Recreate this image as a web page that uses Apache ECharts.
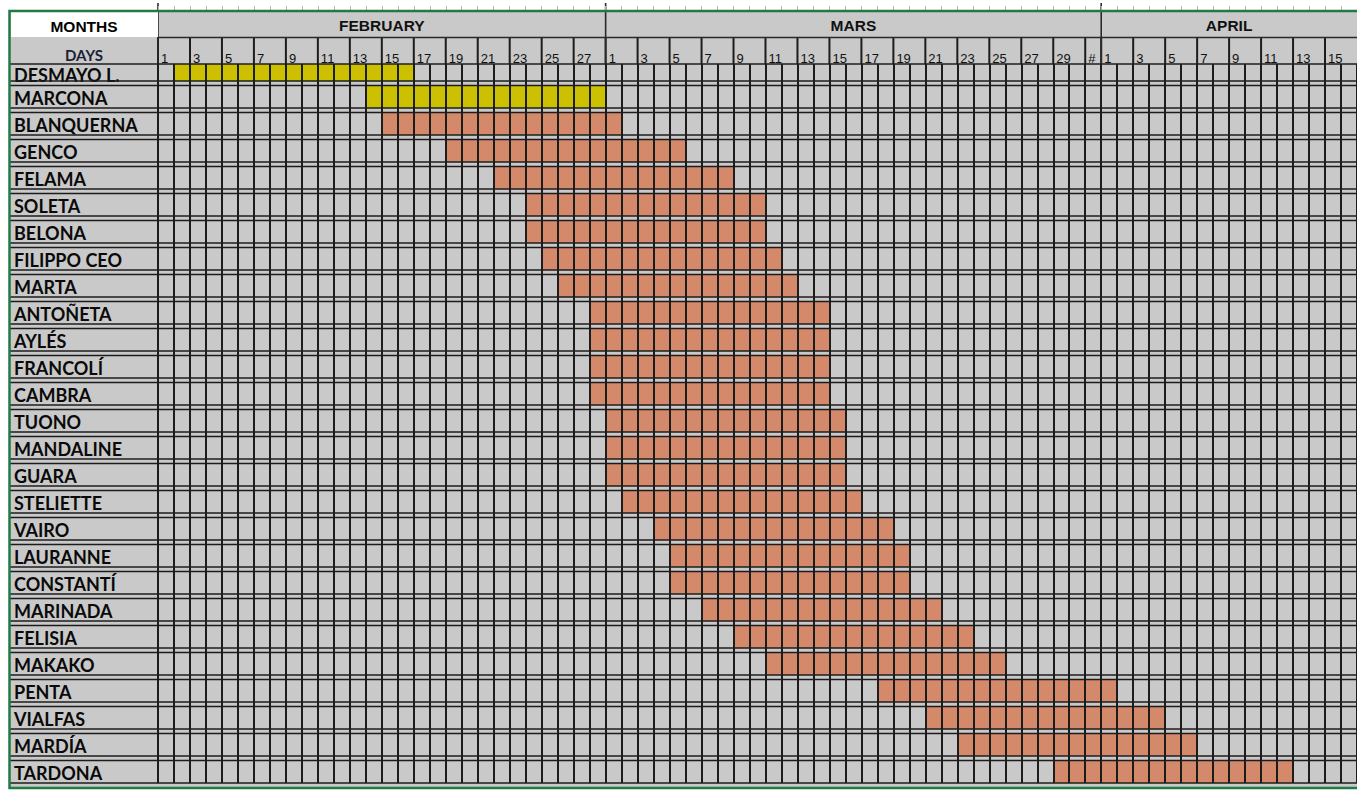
<!DOCTYPE html>
<html><head><meta charset="utf-8">
<script src="https://cdn.jsdelivr.net/npm/echarts@6/dist/echarts.min.js"></script>
<style>html,body{margin:0;padding:0;background:#fff}#c{width:1357px;height:790px}</style>
</head><body><div id="c"></div>
<script>
// ---------- data ----------
const varieties = ['DESMAYO L.','MARCONA','BLANQUERNA','GENCO','FELAMA','SOLETA','BELONA','FILIPPO CEO','MARTA','ANTOÑETA','AYLÉS','FRANCOLÍ','CAMBRA','TUONO','MANDALINE','GUARA','STELIETTE','VAIRO','LAURANNE','CONSTANTÍ','MARINADA','FELISIA','MAKAKO','PENTA','VIALFAS','MARDÍA','TARDONA'];
const bloomStart = ['02-02','02-14','02-15','02-19','02-22','02-24','02-24','02-25','02-26','02-28','02-28','02-28','02-28','03-01','03-01','03-01','03-02','03-04','03-05','03-05','03-07','03-09','03-11','03-18','03-21','03-23','03-29'];
const bloomEnd   = ['02-16','02-28','03-01','03-05','03-08','03-10','03-10','03-11','03-12','03-14','03-14','03-14','03-14','03-15','03-15','03-15','03-16','03-18','03-19','03-19','03-21','03-23','03-25','04-01','04-04','04-06','04-12'];
const bloomGroup = ['early','early','main','main','main','main','main','main','main','main','main','main','main','main','main','main','main','main','main','main','main','main','main','main','main','main','main'];
const monthNames = ['FEBRUARY','MARS','APRIL'];
const monthNumbers = [2, 3, 4];
const monthVisibleDays = [28, 31, 16];
const overflowDayLabel = { 31: '#' };

// ---------- helpers ----------
const monthOffset = {};
let acc = 0;
monthNumbers.forEach((m, i) => { monthOffset[m] = acc; acc += monthVisibleDays[i]; });
const TOTAL = acc;
function dayIndex(s) { const [m, d] = s.split('-').map(Number); return monthOffset[m] + d - 1; }
function dayLabel(v) {
  for (let i = 0; i < monthNumbers.length; i++) {
    const off = monthOffset[monthNumbers[i]];
    if (v >= off && v < off + monthVisibleDays[i]) {
      const day = v - off + 1;
      if (day % 2 === 1) return overflowDayLabel[day] || String(day);
      return '';
    }
  }
  return '';
}
const monthData = monthNumbers.map((m, i) => [monthOffset[m], monthOffset[m] + monthVisibleDays[i], 1]);
const dayCellData = [];
monthNumbers.forEach((m, i) => {
  const off = monthOffset[m], len = monthVisibleDays[i];
  for (let d = 1; d <= len; d += 2) dayCellData.push([off + d - 1, Math.min(off + d + 1, off + len), 1.5]);
});
function barsFor(group) {
  const out = [];
  varieties.forEach((n, i) => { if (bloomGroup[i] === group) out.push([dayIndex(bloomStart[i]), dayIndex(bloomEnd[i]) + 1, i]); });
  return out;
}

// ---------- style ----------
const GRAY = '#c9c9c9';
const LINE = '#1c1c1c';
const LABEL_W = 148;
const ROW_GAP = 4.5;
const nameFont = { fontFamily: 'Lato', fontWeight: 'bold', fontSize: 18, color: '#0a0a0a' };

function renderBar(params, api) {
  const a = api.coord([api.value(0), api.value(2)]);
  const b = api.coord([api.value(1), api.value(2)]);
  const h = api.size([0, 1])[1];
  const top = a[1] - h / 2 + ROW_GAP;
  const bottom = a[1] + h / 2;
  return { type: 'rect', shape: { x: a[0], y: top, width: b[0] - a[0], height: bottom - top }, style: { fill: api.visual('color') } };
}
function renderRowLines(params, api) {
  const i = api.value(1);
  const c = api.coord([0, i]);
  const h = api.size([0, 1])[1];
  const top = c[1] - h / 2, bottom = c[1] + h / 2;
  const x1 = params.coordSys.x - LABEL_W, x2 = params.coordSys.x + params.coordSys.width;
  const st = { stroke: LINE, lineWidth: 1.5 };
  const ch = [];
  if (i > 0) {
    ch.push({ type: 'line', shape: { x1, y1: top, x2, y2: top }, style: st });
    ch.push({ type: 'line', shape: { x1, y1: top + ROW_GAP, x2, y2: top + ROW_GAP }, style: st });
  }
  if (i === varieties.length - 1) ch.push({ type: 'line', shape: { x1, y1: bottom, x2, y2: bottom }, style: st });
  return { type: 'group', children: ch };
}
function renderMonths(params, api) {
  const s = api.value(0), e = api.value(1);
  const a = api.coord([s, 0]), b = api.coord([e, 1]), c = api.coord([s, 2]);
  const ch = [
    { type: 'line', shape: { x1: a[0], y1: a[1] - 8, x2: a[0], y2: c[1] }, style: { stroke: '#2a2a2a', lineWidth: 1.6 } },
    { type: 'line', shape: { x1: a[0], y1: b[1], x2: b[0], y2: b[1] }, style: { stroke: '#2a2a2a', lineWidth: 1.5 } },
    { type: 'text', x: (a[0] + b[0]) / 2, y: (a[1] + b[1]) / 2 + 1.5,
      style: { text: monthNames[params.dataIndex], fill: '#111', fontSize: 15.5, fontWeight: 'bold', fontFamily: 'Liberation Sans', align: 'center', verticalAlign: 'middle' } }
  ];
  if (params.dataIndex === 0) {
    const x1 = params.coordSys.x - LABEL_W, x2 = params.coordSys.x + params.coordSys.width;
    ch.push({ type: 'line', shape: { x1, y1: c[1], x2, y2: c[1] }, style: { stroke: LINE, lineWidth: 1.5 } });
  }
  return { type: 'group', children: ch };
}
function renderDayCells(params, api) {
  const a = api.coord([api.value(0), 1]), b = api.coord([api.value(1), 2]);
  return { type: 'group', children: [
    { type: 'rect', shape: { x: a[0], y: a[1], width: b[0] - a[0], height: b[1] - a[1] }, style: { fill: GRAY } },
    { type: 'line', shape: { x1: a[0], y1: a[1], x2: a[0], y2: b[1] }, style: { stroke: LINE, lineWidth: 2 } }
  ] };
}

const option = {
  backgroundColor: '#ffffff',
  animation: false,
  grid: [
    { left: 158, top: 54, width: 1199, height: 729, show: false, outerBoundsMode: 'none', containLabel: false },
    { left: 158, top: 11, width: 1199, height: 53, show: false, outerBoundsMode: 'none', containLabel: false },
    { left: 10, top: 11, width: 1360, height: 777, show: true, backgroundColor: GRAY, borderWidth: 0, outerBoundsMode: 'none', containLabel: false }
  ],
  xAxis: [
    { gridIndex: 0, type: 'value', min: 0, max: TOTAL, interval: 1, z: 5,
      axisLine: { show: false }, axisTick: { show: false }, axisLabel: { show: false },
      splitLine: { show: true, lineStyle: { color: LINE, width: 2 } } },
    { gridIndex: 1, type: 'value', min: 0, max: TOTAL, interval: 1, position: 'top', offset: 3, z: 12,
      axisLine: { show: false }, axisTick: { show: true, length: 5, lineStyle: { color: '#b4b4b4', width: 1 } },
      axisLabel: { show: false }, splitLine: { show: false } },
    { gridIndex: 1, type: 'value', min: 0, max: TOTAL, interval: 1, position: 'bottom', z: 12,
      axisLine: { show: false }, axisTick: { show: false }, splitLine: { show: false },
      axisLabel: { inside: true, margin: -1, align: 'left', padding: [0, 0, 0, 3], fontSize: 13,
        fontFamily: 'Liberation Sans', color: '#111', formatter: dayLabel } },
    { gridIndex: 2, type: 'value', min: 0, max: 1, show: false }
  ],
  yAxis: [
    { gridIndex: 0, type: 'category', inverse: true, data: varieties, z: 3,
      axisLine: { show: false }, axisTick: { show: false }, splitLine: { show: false },
      axisLabel: { margin: 144, align: 'left', interval: 0,
        formatter: (v, i) => (i === 0 ? '{first|' : '{name|') + v + '}',
        rich: {
          name: Object.assign({ padding: [7, 0, 0, 0] }, nameFont),
          first: Object.assign({ padding: [15, 0, 0, 0] }, nameFont)
        } } },
    { gridIndex: 1, type: 'value', min: 0, max: 2, inverse: true, show: false },
    { gridIndex: 2, type: 'value', min: 0, max: 1, show: false }
  ],
  graphic: { elements: [
    { type: 'rect', z: 20, shape: { x: 11, y: 12, width: 147, height: 25 }, style: { fill: '#ffffff' } },
    { type: 'text', z: 20, x: 84, y: 26, style: { text: 'MONTHS', fill: '#000', fontSize: 15.5, fontWeight: 'bold', fontFamily: 'Liberation Sans', align: 'center', verticalAlign: 'middle' } },
    { type: 'text', z: 20, x: 84, y: 55, style: { text: 'DAYS', fill: '#1b2233', fontSize: 15, fontWeight: 'bold', fontFamily: 'Lato', align: 'center', verticalAlign: 'middle' } },
    { type: 'rect', z: 20, shape: { x: 9.5, y: 11, width: 1400, height: 777 }, style: { fill: 'none', stroke: '#1f7a45', lineWidth: 2.5 } }
  ] },
  series: [
    { name: 'Early bloom', type: 'custom', xAxisIndex: 0, yAxisIndex: 0, z: 2, itemStyle: { color: '#cbc100' },
      encode: { x: [0, 1], y: 2 }, data: barsFor('early'), renderItem: renderBar },
    { name: 'Bloom', type: 'custom', xAxisIndex: 0, yAxisIndex: 0, z: 2, itemStyle: { color: '#d3896a' },
      encode: { x: [0, 1], y: 2 }, data: barsFor('main'), renderItem: renderBar },
    { name: 'rows', type: 'custom', xAxisIndex: 0, yAxisIndex: 0, z: 4, silent: true,
      encode: { x: 0, y: 1 }, data: varieties.map((n, i) => [0, i]), renderItem: renderRowLines },
    { name: 'days', type: 'custom', xAxisIndex: 1, yAxisIndex: 1, z: 10, silent: true,
      encode: { x: [0, 1], y: 2 }, data: dayCellData, renderItem: renderDayCells },
    { name: 'months', type: 'custom', xAxisIndex: 1, yAxisIndex: 1, z: 11, silent: true,
      encode: { x: [0, 1], y: 2 }, data: monthData, renderItem: renderMonths }
  ]
};
const chart = echarts.init(document.getElementById('c'), null, { renderer: 'svg' });
chart.setOption(option);
</script>
</body></html>
